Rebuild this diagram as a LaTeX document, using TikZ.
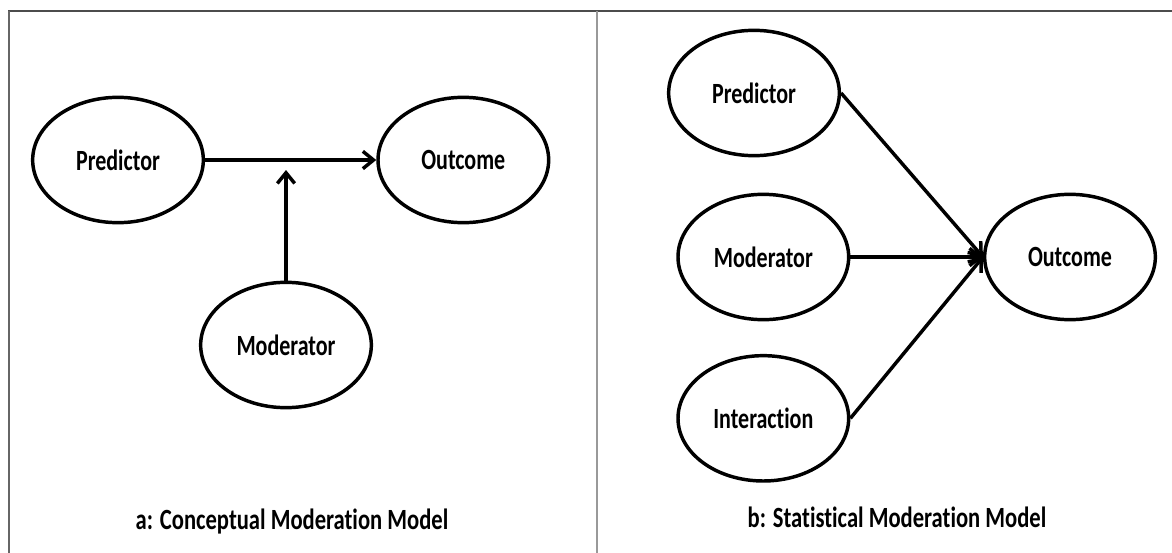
\documentclass[tikz,border=0pt]{standalone}
\usepackage{fontspec}
\setmainfont{Carlito}[Ligatures=NoCommon]
\usepackage{graphicx}
\usepackage{tikz}
\usetikzlibrary{arrows.meta, shapes.geometric}
\newcommand{\narrowText}[1]{\scalebox{0.75}[1]{#1}}
\newcommand{\narrowCap}[1]{\scalebox{0.77}[1]{#1}}
\tikzstyle{mVariable} = [ellipse, minimum width=128pt, minimum height=94pt, inner sep=0pt, draw=black, line width=2.6pt, font=\fontsize{22}{26}\selectfont\bfseries]
\tikzstyle{mCaption} = [font=\fontsize{22}{26}\selectfont\bfseries]
\tikzstyle{mArrow} = [line width=2.6pt, -{Straight Barb[length=8pt, width=13pt]}]
\tikzstyle{mFrame} = [line width=1.2pt, draw=black!60]

\begin{document}
\begin{tikzpicture}[x=0.75pt, y=-0.75pt, node distance=123pt]
    \useasboundingbox (0,0) rectangle (1172,553);
    % frame and divider
    \draw [mFrame, draw=black!70, line width=1.7pt] (8,11) -- (1172,11);
    \draw [mFrame] (9,11) -- (9,553);
    \draw [mFrame, draw=black!40, line width=0.9pt] (597,11) -- (597,553);

    % a: conceptual model
    \node (predA) [mVariable] at (118,160) {\narrowText{Predictor}};
    \node (outA) [mVariable, right of=predA, xshift=136pt] {\narrowText{Outcome}};
    \node (modA) [mVariable, below of=predA, xshift=126pt, yshift=-15.75pt] {\narrowText{Moderator}};
    \coordinate (modTip) at (286,170);
    \node (capA) [mCaption] at (292,522) {\narrowCap{a: Conceptual Moderation Model}};

    \draw [mArrow] (predA) -- (outA);
    \draw [mArrow] (modA) -- (modTip);

    % b: statistical model
    \node (predB) [mVariable] at (754,93) {\narrowText{Predictor}};
    \node (modB) [mVariable, below of=predB, xshift=7pt] {\narrowText{Moderator}};
    \node (intB) [mVariable, below of=modB, yshift=2pt] {\narrowText{Interaction}};
    \node (outB) [mVariable, right of=modB, xshift=107pt] {\narrowText{Outcome}};
    \node (capB) [mCaption] at (897,517) {\narrowCap{b: Statistical Moderation Model}};

    \draw [mArrow] (predB.east) -- (outB.west);
    \draw [mArrow] (modB) -- (outB);
    \draw [mArrow] (intB.east) -- (outB.west);
\end{tikzpicture}
\end{document}
